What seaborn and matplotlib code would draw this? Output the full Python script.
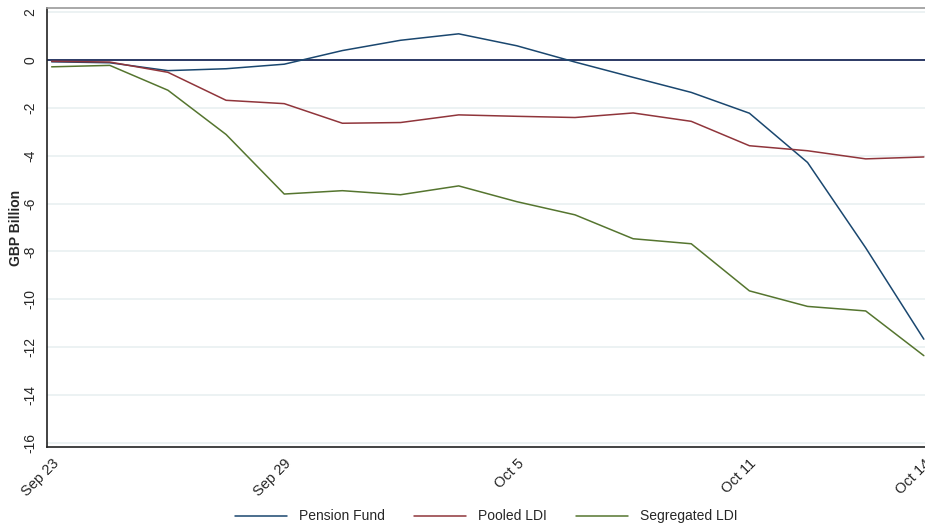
import seaborn as sns
import pandas as pd
import matplotlib.pyplot as plt

days = ["Sep 23", "Sep 26", "Sep 27", "Sep 28", "Sep 29", "Sep 30", "Oct 3", "Oct 4",
        "Oct 5", "Oct 6", "Oct 7", "Oct 10", "Oct 11", "Oct 12", "Oct 13", "Oct 14"]
pension_fund = [-0.07, -0.11, -0.44, -0.36, -0.17, 0.40, 0.83, 1.10,
                0.60, -0.08, -0.72, -1.35, -2.22, -4.28, -7.85, -11.67]
pooled_ldi = [-0.05, -0.08, -0.51, -1.68, -1.82, -2.64, -2.61, -2.29,
              -2.35, -2.40, -2.21, -2.56, -3.58, -3.79, -4.13, -4.05]
segregated_ldi = [-0.28, -0.22, -1.26, -3.11, -5.60, -5.46, -5.63, -5.26,
                  -5.92, -6.47, -7.47, -7.68, -9.65, -10.30, -10.49, -12.36]
tick_days = ["Sep 23", "Sep 29", "Oct 5", "Oct 11", "Oct 14"]
y_ticks = list(range(-16, 3, 2))

df = pd.DataFrame({"Day": range(len(days)),
                   "Pension Fund": pension_fund,
                   "Pooled LDI": pooled_ldi,
                   "Segregated LDI": segregated_ldi})
df_long = df.melt(id_vars="Day", var_name="Series", value_name="GBP Billion")

sns.set_style("white")
plt.rcParams["font.family"] = ["Liberation Sans", "DejaVu Sans"]

colors = {"Pension Fund": "#1a476f", "Pooled LDI": "#90353b", "Segregated LDI": "#55752f"}

fig = plt.figure(figsize=(9.25, 5.27), dpi=100)
ax = fig.add_axes([47 / 925, 1 - 447 / 527, 1 - 47 / 925, (447 - 8) / 527])

for y in y_ticks:
    ax.axhline(y, color="#e9f0f1", lw=1.2, zorder=0)
ax.axhline(0, color="#1c2b5a", lw=1.3, zorder=1)

sns.lineplot(data=df_long, x="Day", y="GBP Billion", hue="Series", palette=colors,
             linewidth=1.1, ax=ax, legend=True, zorder=2)

ax.set_xlim(-0.08, 15.02)
ax.set_ylim(-16.18, 2.18)
ax.set_yticks(y_ticks)
ax.set_yticklabels([str(v) for v in y_ticks], rotation=90, va="center", fontsize=10)
ax.set_xticks([days.index(d) for d in tick_days])
ax.set_xticklabels(tick_days, rotation=45, ha="right", rotation_mode="anchor", fontsize=10.5)
ax.set_xlabel("")
ax.set_ylabel("GBP Billion", fontsize=10, fontweight="bold", labelpad=0)
ax.tick_params(axis="both", direction="out", length=4, width=0.8, color="#333333", pad=3)

for side in ["left", "bottom"]:
    ax.spines[side].set_color("#222222")
    ax.spines[side].set_linewidth(1.2)
ax.spines["top"].set_color("#999999")
ax.spines["top"].set_linewidth(1.2)
ax.spines["right"].set_visible(False)

handles, labels = ax.get_legend_handles_labels()
ax.legend(handles, labels, loc="center", bbox_to_anchor=(0.5, -0.158), ncol=3,
          frameon=False, fontsize=10, handlelength=3.75, handletextpad=0.85,
          columnspacing=2.1)

plt.savefig("out.png", dpi=100)
